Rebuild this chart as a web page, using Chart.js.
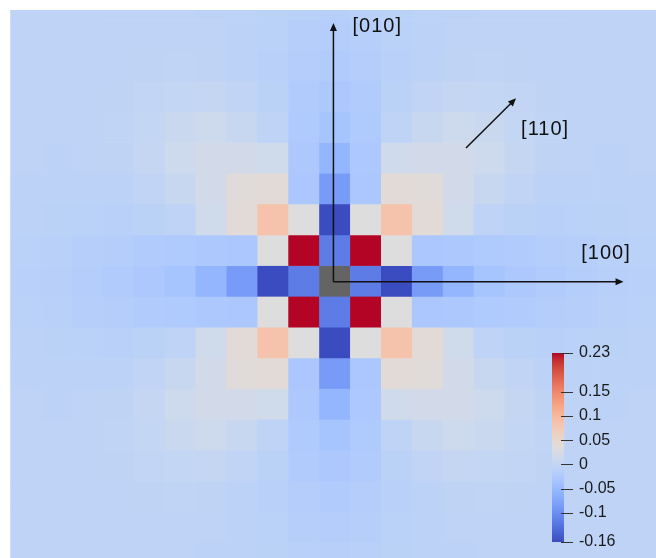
<!DOCTYPE html>
<html>
<head>
<meta charset="utf-8">
<title>Displacement map</title>
<script src="https://cdn.jsdelivr.net/npm/chart.js@4.4.1/dist/chart.umd.min.js"></script>
<style>
  body { margin: 0; background: #fff; }
  canvas { display: block; }
</style>
</head>
<body>
<canvas id="canvas_map" width="656" height="558"></canvas>
<script>
// lattice sites shown (x left->right, y top->bottom)
const cols = [-10,-9,-8,-7,-6,-5,-4,-3,-2,-1,0,1,2,3,4,5,6,7,8,9,10];
const rows = [9,8,7,6,5,4,3,2,1,0,-1,-2,-3,-4,-5,-6,-7,-8,-9];

// value of every cell, one line per row (top to bottom), null = centre site
const cells = [
  [-0.007,-0.007,-0.007,-0.007,-0.007,-0.007,-0.008,-0.009,-0.01,-0.013,-0.015,-0.013,-0.01,-0.009,-0.008,-0.007,-0.007,-0.007,-0.007,-0.007,-0.007],
  [-0.007,-0.007,-0.007,-0.007,-0.006,-0.006,-0.007,-0.009,-0.011,-0.016,-0.019,-0.016,-0.011,-0.009,-0.007,-0.006,-0.006,-0.007,-0.007,-0.007,-0.007],
  [-0.007,-0.007,-0.007,-0.006,-0.005,-0.004,-0.005,-0.008,-0.012,-0.019,-0.023,-0.019,-0.012,-0.008,-0.005,-0.004,-0.005,-0.006,-0.007,-0.007,-0.007],
  [-0.007,-0.007,-0.006,-0.005,-0.002,0.0,0.002,-0.003,-0.01,-0.022,-0.028,-0.022,-0.01,-0.003,0.002,0.0,-0.002,-0.005,-0.006,-0.007,-0.007],
  [-0.007,-0.007,-0.006,-0.004,0.0,0.008,0.012,0.006,-0.006,-0.025,-0.035,-0.025,-0.006,0.006,0.012,0.008,0.0,-0.004,-0.006,-0.007,-0.007],
  [-0.007,-0.008,-0.007,-0.005,0.002,0.012,0.019,0.019,0.015,-0.027,-0.055,-0.027,0.015,0.019,0.019,0.012,0.002,-0.005,-0.007,-0.008,-0.007],
  [-0.008,-0.009,-0.009,-0.008,-0.003,0.006,0.019,0.04,0.042,-0.029,-0.086,-0.029,0.042,0.04,0.019,0.006,-0.003,-0.008,-0.009,-0.009,-0.008],
  [-0.009,-0.01,-0.011,-0.012,-0.01,-0.006,0.015,0.042,0.086,0.035,-0.16,0.035,0.086,0.042,0.015,-0.006,-0.01,-0.012,-0.011,-0.01,-0.009],
  [-0.011,-0.013,-0.016,-0.019,-0.022,-0.025,-0.027,-0.029,0.035,0.23,-0.117,0.23,0.035,-0.029,-0.027,-0.025,-0.022,-0.019,-0.016,-0.013,-0.011],
  [-0.012,-0.015,-0.019,-0.023,-0.028,-0.035,-0.055,-0.086,-0.16,-0.117,null,-0.117,-0.16,-0.086,-0.055,-0.035,-0.028,-0.023,-0.019,-0.015,-0.012],
  [-0.011,-0.013,-0.016,-0.019,-0.022,-0.025,-0.027,-0.029,0.035,0.23,-0.117,0.23,0.035,-0.029,-0.027,-0.025,-0.022,-0.019,-0.016,-0.013,-0.011],
  [-0.009,-0.01,-0.011,-0.012,-0.01,-0.006,0.015,0.042,0.086,0.035,-0.16,0.035,0.086,0.042,0.015,-0.006,-0.01,-0.012,-0.011,-0.01,-0.009],
  [-0.008,-0.009,-0.009,-0.008,-0.003,0.006,0.019,0.04,0.042,-0.029,-0.086,-0.029,0.042,0.04,0.019,0.006,-0.003,-0.008,-0.009,-0.009,-0.008],
  [-0.007,-0.008,-0.007,-0.005,0.002,0.012,0.019,0.019,0.015,-0.027,-0.055,-0.027,0.015,0.019,0.019,0.012,0.002,-0.005,-0.007,-0.008,-0.007],
  [-0.007,-0.007,-0.006,-0.004,0.0,0.008,0.012,0.006,-0.006,-0.025,-0.035,-0.025,-0.006,0.006,0.012,0.008,0.0,-0.004,-0.006,-0.007,-0.007],
  [-0.007,-0.007,-0.006,-0.005,-0.002,0.0,0.002,-0.003,-0.01,-0.022,-0.028,-0.022,-0.01,-0.003,0.002,0.0,-0.002,-0.005,-0.006,-0.007,-0.007],
  [-0.007,-0.007,-0.007,-0.006,-0.005,-0.004,-0.005,-0.008,-0.012,-0.019,-0.023,-0.019,-0.012,-0.008,-0.005,-0.004,-0.005,-0.006,-0.007,-0.007,-0.007],
  [-0.007,-0.007,-0.007,-0.007,-0.006,-0.006,-0.007,-0.009,-0.011,-0.016,-0.019,-0.016,-0.011,-0.009,-0.007,-0.006,-0.006,-0.007,-0.007,-0.007,-0.007],
  [-0.007,-0.007,-0.007,-0.007,-0.007,-0.007,-0.008,-0.009,-0.01,-0.013,-0.015,-0.013,-0.01,-0.009,-0.008,-0.007,-0.007,-0.007,-0.007,-0.007,-0.007],
];

// colour bar range and ticks
const barMin = -0.16;
const barMax = 0.23;
const barTicks = [0.23, 0.15, 0.1, 0.05, 0, -0.05, -0.1, -0.16];

// direction labels
const dirLabels = ['[010]', '[100]', '[110]'];

// cool to warm colour map (Moreland)
const coolWarm = [
  [59,76,192],[68,90,204],[77,104,215],[87,117,225],[98,130,234],[108,142,241],
  [119,154,247],[130,165,251],[141,176,254],[152,185,255],[163,194,255],[174,201,253],
  [184,208,249],[194,213,244],[204,217,238],[213,219,230],[221,221,221],[229,216,209],
  [236,211,197],[241,204,185],[245,196,173],[247,187,160],[247,177,148],[247,166,135],
  [244,154,123],[241,141,111],[236,127,99],[229,112,88],[222,96,77],[213,80,66],
  [203,62,56],[192,40,47],[180,4,38]
];
const nanColor = 'rgb(100,100,100)';

function colorFor(v) {
  if (v === null) return nanColor;
  let t = (v - barMin) / (barMax - barMin);
  t = Math.max(0, Math.min(1, t)) * (coolWarm.length - 1);
  const i = Math.min(Math.floor(t), coolWarm.length - 2);
  const f = t - i;
  const a = coolWarm[i], b = coolWarm[i + 1];
  const c = a.map((k, n) => Math.round(k + (b[n] - k) * f));
  return 'rgb(' + c.join(',') + ')';
}

// each row is one dataset of floating bars
const datasets_map = rows.map((y, r) => ({
  label: 'y = ' + y,
  data: cols.map(x => ({ x: x, y: [y - 0.5, y + 0.5] })),
  backgroundColor: cells[r].map(colorFor),
  borderWidth: 0,
  grouped: false,
  barPercentage: 1,
  categoryPercentage: 1,
}));

// arrows and labels, in lattice units
const arrows = [
  { from: [-0.05, -0.03], to: [-0.05, 8.39] },
  { from: [-0.05, -0.03], to: [9.34, -0.03] },
  { from: [4.24, 4.32], to: [5.86, 5.94] },
];
const labelAt = [[1.37, 8.26], [8.77, 0.88], [6.8, 4.91]];

const overlay = {
  id: 'overlay',
  afterDatasetsDraw(chart) {
    const { ctx, scales: { x, y } } = chart;
    ctx.save();
    ctx.strokeStyle = '#111';
    ctx.fillStyle = '#111';
    ctx.lineWidth = 1.5;
    arrows.forEach(a => {
      const x0 = x.getPixelForValue(a.from[0]), y0 = y.getPixelForValue(a.from[1]);
      const x1 = x.getPixelForValue(a.to[0]), y1 = y.getPixelForValue(a.to[1]);
      const ang = Math.atan2(y1 - y0, x1 - x0);
      ctx.beginPath();
      ctx.moveTo(x0, y0);
      ctx.lineTo(x1 - 6 * Math.cos(ang), y1 - 6 * Math.sin(ang));
      ctx.stroke();
      ctx.beginPath();
      ctx.moveTo(x1, y1);
      ctx.lineTo(x1 - 8 * Math.cos(ang) + 3.5 * Math.sin(ang), y1 - 8 * Math.sin(ang) - 3.5 * Math.cos(ang));
      ctx.lineTo(x1 - 8 * Math.cos(ang) - 3.5 * Math.sin(ang), y1 - 8 * Math.sin(ang) + 3.5 * Math.cos(ang));
      ctx.closePath();
      ctx.fill();
    });
    ctx.font = '20px "Liberation Sans", Arial, sans-serif';
    ctx.letterSpacing = '1px';
    ctx.textAlign = 'center';
    ctx.textBaseline = 'middle';
    dirLabels.forEach((t, i) => {
      ctx.fillText(t, x.getPixelForValue(labelAt[i][0]), y.getPixelForValue(labelAt[i][1]));
    });
    ctx.letterSpacing = '0px';

    // colour bar
    const bx = 552, bw = 12, by = 353, bh = 189;
    const grad = ctx.createLinearGradient(0, by + bh, 0, by);
    coolWarm.forEach((c, i) => grad.addColorStop(i / (coolWarm.length - 1), 'rgb(' + c.join(',') + ')'));
    ctx.fillStyle = grad;
    ctx.fillRect(bx, by, bw, bh);
    ctx.strokeStyle = '#333';
    ctx.lineWidth = 1;
    ctx.fillStyle = '#1a1a1a';
    ctx.font = '16px "Liberation Sans", Arial, sans-serif';
    ctx.textAlign = 'left';
    barTicks.forEach(v => {
      const ty = by + (barMax - v) / (barMax - barMin) * bh;
      ctx.beginPath();
      ctx.moveTo(bx + 9, Math.round(ty) + 0.5);
      ctx.lineTo(bx + 21, Math.round(ty) + 0.5);
      ctx.stroke();
      ctx.fillText(String(v), bx + 27, ty);
    });
    ctx.restore();
  }
};

const config_map = {
  type: 'bar',
  data: { datasets: datasets_map },
  options: {
    responsive: false,
    animation: false,
    events: [],
    layout: { padding: { left: 9, top: 10, right: 0, bottom: 0 } },
    plugins: { legend: { display: false }, tooltip: { enabled: false } },
    scales: {
      x: {
        type: 'linear', min: -10.55, max: 10.39, offset: false, display: false,
        afterBuildTicks: (scale) => { scale.ticks = cols.map(v => ({ value: v })); },
      },
      y: { type: 'linear', min: -9.01, max: 8.81, display: false },
    },
  },
  plugins: [overlay],
};

const canvas_map = document.getElementById('canvas_map');
const chart_map = new Chart(canvas_map, config_map);
</script>
</body>
</html>
